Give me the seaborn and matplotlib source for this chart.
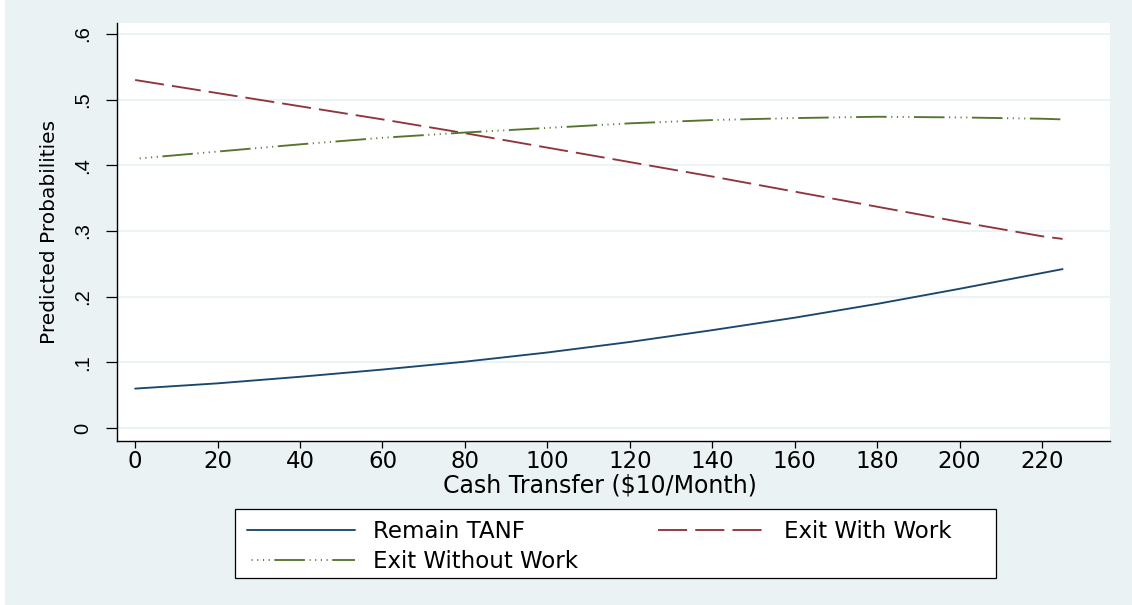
import matplotlib
matplotlib.use("Agg")
import matplotlib.pyplot as plt
import seaborn as sns
import pandas as pd

# Data
cash = [0, 20, 40, 60, 80, 100, 120, 140, 160, 180, 200, 220, 225]
remain_tanf = [0.060, 0.068, 0.078, 0.089, 0.101, 0.115, 0.131, 0.149, 0.168, 0.189, 0.212, 0.236, 0.242]
exit_with_work = [0.530, 0.510, 0.490, 0.470, 0.449, 0.427, 0.405, 0.383, 0.360, 0.337, 0.314, 0.292, 0.288]
exit_without_work = [0.410, 0.421, 0.432, 0.442, 0.450, 0.457, 0.464, 0.469, 0.472, 0.474, 0.473, 0.471, 0.470]
x_ticks = [0, 20, 40, 60, 80, 100, 120, 140, 160, 180, 200, 220]
y_ticks = [0, 0.1, 0.2, 0.3, 0.4, 0.5, 0.6]
y_tick_labels = ["0", ".1", ".2", ".3", ".4", ".5", ".6"]

sns.set_theme(style="white")
plt.rcParams['font.family'] = ['DejaVu Sans']
plt.rcParams['lines.scale_dashes'] = False
for k in ['text.color', 'axes.labelcolor', 'xtick.color', 'ytick.color',
          'xtick.labelcolor', 'ytick.labelcolor']:
    plt.rcParams[k] = 'black'

BG = "#EAF2F3"
fig = plt.figure(figsize=(11.32, 6.05), dpi=100, facecolor=BG)
# thin white strip at left
fig.patches.append(plt.Rectangle((0, 0), 5 / 1132, 1, transform=fig.transFigure,
                                 facecolor="white", edgecolor="none", zorder=-1))

ax = fig.add_axes([117 / 1132, 1 - 441 / 605, (1110 - 117) / 1132, (441 - 23) / 605])
ax.set_facecolor("white")

df = pd.DataFrame({"cash": cash, "Remain TANF": remain_tanf,
                   "Exit With Work": exit_with_work, "Exit Without Work": exit_without_work})

lw = 1.35
sns.lineplot(data=df, x="cash", y="Remain TANF", ax=ax, color="#1a476f", linewidth=lw,
             label="Remain TANF", linestyle="-")
sns.lineplot(data=df, x="cash", y="Exit With Work", ax=ax, color="#90353b", linewidth=lw,
             label="Exit With Work", linestyle=(0, (21, 5.8)))
sns.lineplot(data=df, x="cash", y="Exit Without Work", ax=ax, color="#55752f", linewidth=lw,
             label="Exit Without Work",
             linestyle=(22, (22, 3.3, 0.8, 3.3, 0.8, 3.3, 0.8, 3.3, 0.8, 3.3)))

ax.set_xlim(-4.4, 236.5)
ax.set_ylim(-0.0198, 0.6168)
ax.set_xticks(x_ticks)
ax.set_xticklabels([str(v) for v in x_ticks])
ax.set_yticks(y_ticks)
ax.set_yticklabels(y_tick_labels, rotation=90, va="center",
                   family=['Liberation Sans', 'DejaVu Sans'], fontsize=14.5)

ax.yaxis.grid(True, color=BG, linewidth=1.3)
ax.xaxis.grid(False)
ax.set_axisbelow(True)

for s in ["top", "right"]:
    ax.spines[s].set_visible(False)
for s in ["left", "bottom"]:
    ax.spines[s].set_color("black")
    ax.spines[s].set_linewidth(1.0)

ax.tick_params(axis="y", which="major", direction="out", length=8, width=0.9,
               color="black", pad=10, left=True)
ax.tick_params(axis="x", which="major", direction="out", length=5, width=0.9,
               color="black", labelsize=16.5, pad=1.5, bottom=True)

ax.set_xlabel("Cash Transfer ($10/Month)", fontsize=17)
ax.xaxis.set_label_coords((600 - 117) / 993, (441 - 474) / 418)
ax.set_ylabel("Predicted Probabilities", fontsize=14.5, labelpad=10)

ax.get_legend().remove()
h = {l.get_label(): l for l in ax.get_lines()}
handles = [h["Remain TANF"], h["Exit Without Work"], h["Exit With Work"]]
labels = ["Remain TANF", "Exit Without Work", "Exit With Work"]

# legend box
fig.patches.append(plt.Rectangle((235 / 1132, 1 - 578 / 605), (996 - 235) / 1132, 69 / 605,
                                 transform=fig.transFigure, facecolor="white",
                                 edgecolor="black", linewidth=0.9, zorder=1))
leg = fig.legend(handles, labels, ncol=2, loc="upper left",
                 bbox_to_anchor=(247 / 1132, 1 - 520 / 605),
                 frameon=False, fontsize=16.5, handlelength=4.7,
                 handletextpad=0.8, labelspacing=0.32, columnspacing=3.5,
                 borderaxespad=0, borderpad=0)
leg.set_zorder(2)

fig.savefig("out.png", dpi=100, facecolor=BG)
